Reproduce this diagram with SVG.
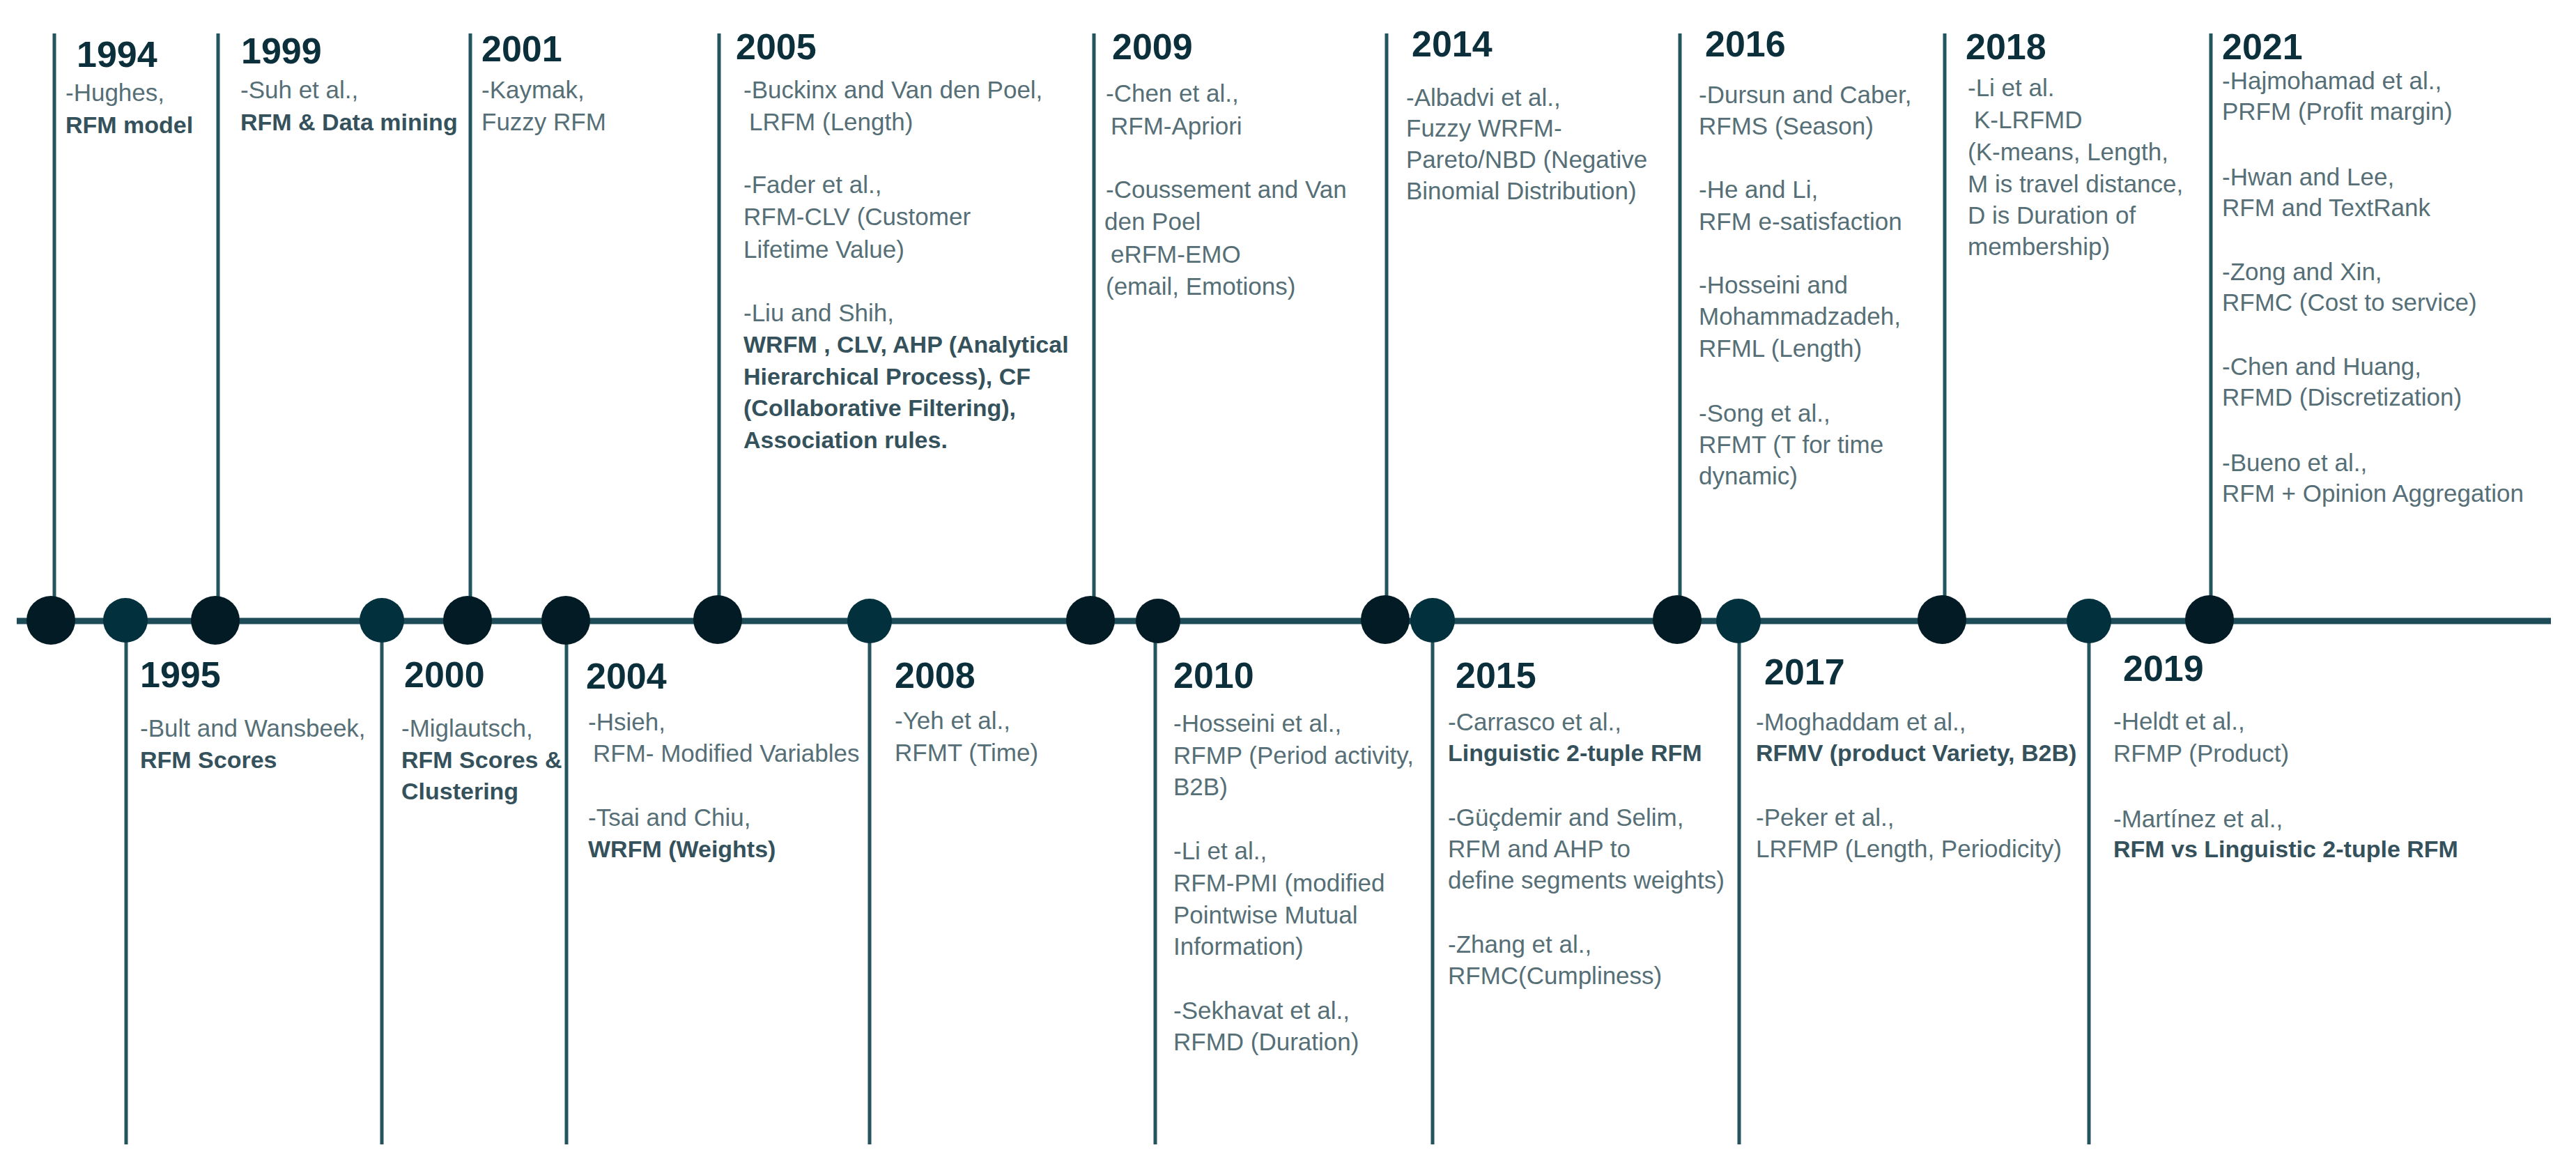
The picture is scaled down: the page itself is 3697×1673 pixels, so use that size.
<svg xmlns="http://www.w3.org/2000/svg" width="3697" height="1673" viewBox="0 0 3697 1673">
<style>
.yr{font-family:"Liberation Sans",Arial,sans-serif;font-weight:bold;font-size:52px;fill:#0b2f3b}
.t{font-family:"Liberation Sans",Arial,sans-serif;font-size:35px;fill:#566f77}
.b{font-family:"Liberation Sans",Arial,sans-serif;font-weight:bold;font-size:34px;fill:#35525c}
.dk{fill:#021b24}
.tl{fill:#03303d}
.stem{stroke:#24555f;stroke-width:5;fill:none}
.axis{stroke:#1d4b57;stroke-width:9;fill:none}
</style>
<rect width="3697" height="1673" fill="#ffffff"/>
<g id="connectors">
<line class="axis" x1="24" y1="891" x2="3661" y2="891"/>
<line class="stem" x1="78" y1="48" x2="78" y2="891"/>
<line class="stem" x1="313" y1="48" x2="313" y2="891"/>
<line class="stem" x1="675" y1="48" x2="675" y2="891"/>
<line class="stem" x1="1032" y1="48" x2="1032" y2="891"/>
<line class="stem" x1="1570" y1="48" x2="1570" y2="891"/>
<line class="stem" x1="1990" y1="48" x2="1990" y2="891"/>
<line class="stem" x1="2411" y1="48" x2="2411" y2="891"/>
<line class="stem" x1="2791" y1="48" x2="2791" y2="891"/>
<line class="stem" x1="3173" y1="48" x2="3173" y2="891"/>
<line class="stem" x1="181" y1="891" x2="181" y2="1642"/>
<line class="stem" x1="548" y1="891" x2="548" y2="1642"/>
<line class="stem" x1="813" y1="891" x2="813" y2="1642"/>
<line class="stem" x1="1248" y1="891" x2="1248" y2="1642"/>
<line class="stem" x1="1658" y1="891" x2="1658" y2="1642"/>
<line class="stem" x1="2056" y1="891" x2="2056" y2="1642"/>
<line class="stem" x1="2496" y1="891" x2="2496" y2="1642"/>
<line class="stem" x1="2998" y1="891" x2="2998" y2="1642"/>
</g>
<g id="n1994">
<circle class="dk" cx="73" cy="890" r="35"/>
<text class="yr" x="110" y="96">1994</text>
<text class="t" x="94" y="145">-Hughes,</text>
<text class="b" x="94" y="191">RFM model</text>
</g>
<g id="n1995">
<circle class="tl" cx="180" cy="890" r="32"/>
<text class="yr" x="201" y="986">1995</text>
<text class="t" x="201" y="1057">-Bult and Wansbeek,</text>
<text class="b" x="201" y="1102">RFM Scores</text>
</g>
<g id="n1999">
<circle class="dk" cx="309" cy="890" r="35"/>
<text class="yr" x="346" y="91">1999</text>
<text class="t" x="345" y="141">-Suh et al.,</text>
<text class="b" x="345" y="187">RFM &amp; Data mining</text>
</g>
<g id="n2000">
<circle class="tl" cx="548" cy="890" r="32"/>
<text class="yr" x="580" y="986">2000</text>
<text class="t" x="576" y="1057">-Miglautsch,</text>
<text class="b" x="576" y="1102">RFM Scores &amp;</text>
<text class="b" x="576" y="1147">Clustering</text>
</g>
<g id="n2001">
<circle class="dk" cx="671" cy="890" r="35"/>
<text class="yr" x="691" y="88">2001</text>
<text class="t" x="691" y="141">-Kaymak,</text>
<text class="t" x="691" y="187">Fuzzy RFM</text>
</g>
<g id="n2004">
<circle class="dk" cx="812" cy="890" r="35"/>
<text class="yr" x="841" y="988">2004</text>
<text class="t" x="844" y="1048">-Hsieh,</text>
<text class="t" x="851" y="1093">RFM- Modified Variables</text>
<text class="t" x="844" y="1185">-Tsai and Chiu,</text>
<text class="b" x="844" y="1230">WRFM (Weights)</text>
</g>
<g id="n2005">
<circle class="dk" cx="1030" cy="889" r="35"/>
<text class="yr" x="1056" y="85">2005</text>
<text class="t" x="1067" y="141">-Buckinx and Van den Poel,</text>
<text class="t" x="1075" y="187">LRFM (Length)</text>
<text class="t" x="1067" y="277">-Fader et al.,</text>
<text class="t" x="1067" y="323">RFM-CLV (Customer</text>
<text class="t" x="1067" y="370">Lifetime Value)</text>
<text class="t" x="1067" y="461">-Liu and Shih,</text>
<text class="b" x="1067" y="506">WRFM , CLV, AHP (Analytical</text>
<text class="b" x="1067" y="552">Hierarchical Process), CF</text>
<text class="b" x="1067" y="597">(Collaborative Filtering),</text>
<text class="b" x="1067" y="643">Association rules.</text>
</g>
<g id="n2008">
<circle class="tl" cx="1248" cy="891" r="32"/>
<text class="yr" x="1284" y="987">2008</text>
<text class="t" x="1284" y="1046">-Yeh et al.,</text>
<text class="t" x="1284" y="1092">RFMT (Time)</text>
</g>
<g id="n2009">
<circle class="dk" cx="1565" cy="890" r="35"/>
<text class="yr" x="1596" y="85">2009</text>
<text class="t" x="1587" y="146">-Chen et al.,</text>
<text class="t" x="1594" y="193">RFM-Apriori</text>
<text class="t" x="1587" y="284">-Coussement and Van</text>
<text class="t" x="1585" y="330">den Poel</text>
<text class="t" x="1594" y="377">eRFM-EMO</text>
<text class="t" x="1587" y="423">(email, Emotions)</text>
</g>
<g id="n2010">
<circle class="dk" cx="1662" cy="891" r="32"/>
<text class="yr" x="1684" y="987">2010</text>
<text class="t" x="1684" y="1050">-Hosseini et al.,</text>
<text class="t" x="1684" y="1096">RFMP (Period activity,</text>
<text class="t" x="1684" y="1141">B2B)</text>
<text class="t" x="1684" y="1233">-Li et al.,</text>
<text class="t" x="1684" y="1279">RFM-PMI (modified</text>
<text class="t" x="1684" y="1325">Pointwise Mutual</text>
<text class="t" x="1684" y="1370">Information)</text>
<text class="t" x="1684" y="1462">-Sekhavat et al.,</text>
<text class="t" x="1684" y="1507">RFMD (Duration)</text>
</g>
<g id="n2014">
<circle class="dk" cx="1988" cy="889" r="35"/>
<text class="yr" x="2026" y="81">2014</text>
<text class="t" x="2018" y="152">-Albadvi et al.,</text>
<text class="t" x="2018" y="196">Fuzzy WRFM-</text>
<text class="t" x="2018" y="241">Pareto/NBD (Negative</text>
<text class="t" x="2018" y="286">Binomial Distribution)</text>
</g>
<g id="n2015">
<circle class="tl" cx="2056" cy="890" r="32"/>
<text class="yr" x="2089" y="987">2015</text>
<text class="t" x="2078" y="1048">-Carrasco et al.,</text>
<text class="b" x="2078" y="1092">Linguistic 2-tuple RFM</text>
<text class="t" x="2078" y="1185">-Güçdemir and Selim,</text>
<text class="t" x="2078" y="1230">RFM and AHP to</text>
<text class="t" x="2078" y="1275">define segments weights)</text>
<text class="t" x="2078" y="1367">-Zhang et al.,</text>
<text class="t" x="2078" y="1412">RFMC(Cumpliness)</text>
</g>
<g id="n2016">
<circle class="dk" cx="2407" cy="889" r="35"/>
<text class="yr" x="2447" y="81">2016</text>
<text class="t" x="2438" y="148">-Dursun and Caber,</text>
<text class="t" x="2438" y="193">RFMS (Season)</text>
<text class="t" x="2438" y="284">-He and Li,</text>
<text class="t" x="2438" y="330">RFM e-satisfaction</text>
<text class="t" x="2438" y="421">-Hosseini and</text>
<text class="t" x="2438" y="466">Mohammadzadeh,</text>
<text class="t" x="2438" y="512">RFML (Length)</text>
<text class="t" x="2438" y="605">-Song et al.,</text>
<text class="t" x="2438" y="650">RFMT (T for time</text>
<text class="t" x="2438" y="695">dynamic)</text>
</g>
<g id="n2017">
<circle class="tl" cx="2495" cy="891" r="32"/>
<text class="yr" x="2532" y="982">2017</text>
<text class="t" x="2520" y="1048">-Moghaddam et al.,</text>
<text class="b" x="2520" y="1092">RFMV (product Variety, B2B)</text>
<text class="t" x="2520" y="1185">-Peker et al.,</text>
<text class="t" x="2520" y="1230">LRFMP (Length, Periodicity)</text>
</g>
<g id="n2018">
<circle class="dk" cx="2787" cy="889" r="35"/>
<text class="yr" x="2821" y="85">2018</text>
<text class="t" x="2824" y="138">-Li et al.</text>
<text class="t" x="2833" y="184">K-LRFMD</text>
<text class="t" x="2824" y="230">(K-means, Length,</text>
<text class="t" x="2824" y="276">M is travel distance,</text>
<text class="t" x="2824" y="321">D is Duration of</text>
<text class="t" x="2824" y="366">membership)</text>
</g>
<g id="n2019">
<circle class="tl" cx="2998" cy="891" r="32"/>
<text class="yr" x="3047" y="977">2019</text>
<text class="t" x="3033" y="1047">-Heldt et al.,</text>
<text class="t" x="3033" y="1093">RFMP (Product)</text>
<text class="t" x="3033" y="1187">-Martínez et al.,</text>
<text class="b" x="3033" y="1230">RFM vs Linguistic 2-tuple RFM</text>
</g>
<g id="n2021">
<circle class="dk" cx="3171" cy="889" r="35"/>
<text class="yr" x="3189" y="85">2021</text>
<text class="t" x="3189" y="128">-Hajmohamad et al.,</text>
<text class="t" x="3189" y="172">PRFM (Profit margin)</text>
<text class="t" x="3189" y="266">-Hwan and Lee,</text>
<text class="t" x="3189" y="310">RFM and TextRank</text>
<text class="t" x="3189" y="402">-Zong and Xin,</text>
<text class="t" x="3189" y="446">RFMC (Cost to service)</text>
<text class="t" x="3189" y="538">-Chen and Huang,</text>
<text class="t" x="3189" y="582">RFMD (Discretization)</text>
<text class="t" x="3189" y="676">-Bueno et al.,</text>
<text class="t" x="3189" y="720">RFM + Opinion Aggregation</text>
</g>
</svg>
